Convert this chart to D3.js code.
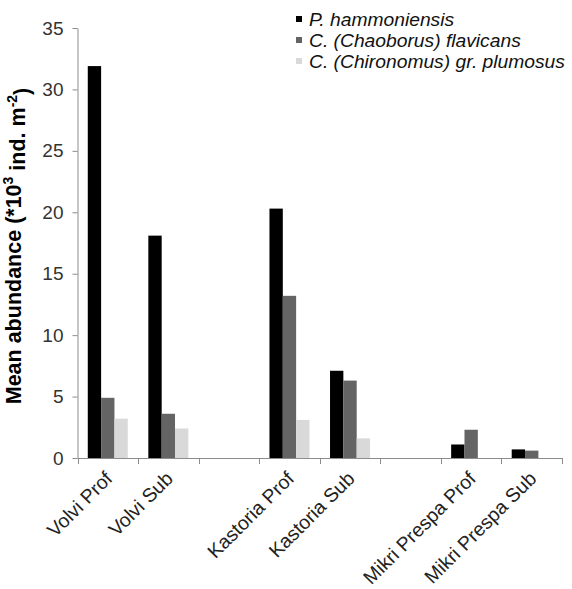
<!DOCTYPE html>
<html>
<head>
<meta charset="utf-8">
<script src="https://cdn.jsdelivr.net/npm/d3@7"></script>
<style>
  html, body { margin: 0; padding: 0; background: #fff; }
  svg { display: block; }
  text { font-family: Arial, "Liberation Sans", sans-serif; }
</style>
</head>
<body>
<svg id="chart" width="572" height="589"></svg>
<script>
// Sites (blank entries leave a gap between lakes)
const categories = ["Volvi Prof", "Volvi Sub", "", "Kastoria Prof", "Kastoria Sub", " ", "Mikri Prespa Prof", "Mikri Prespa Sub"];
const seriesNames = ["P. hammoniensis", "C. (Chaoborus) flavicans", "C. (Chironomus) gr. plumosus"];
// Mean abundance (*10^3 ind. m^-2)
const hammoniensis = [31.9, 18.1, null, 20.3, 7.1, null, 1.1, 0.7];
const flavicans    = [4.9, 3.6, null, 13.2, 6.3, null, 2.3, 0.6];
const plumosus     = [3.2, 2.4, null, 3.1, 1.6, null, 0, 0];
const yTicks = [0, 5, 10, 15, 20, 25, 30, 35];
const seriesColors = ["#000000", "#646464", "#d9d9d9"];

const seriesValues = [hammoniensis, flavicans, plumosus];
const svg = d3.select("#chart");

const x0 = d3.scaleBand().domain(categories).range([77.5, 562]).padding(0);
const x1 = d3.scaleBand().domain(seriesNames).range([0, x0.bandwidth()]).paddingInner(0).paddingOuter(0.77);
const y = d3.scaleLinear().domain([0, 35]).range([458, 28]);

const axisColor = "#8c8c8c";

// y axis
const yAxis = svg.append("g")
  .attr("transform", `translate(${x0.range()[0]},0)`)
  .call(d3.axisLeft(y).tickValues(yTicks).tickSize(5).tickSizeOuter(0).tickPadding(9));
yAxis.select(".domain").attr("stroke", axisColor);
yAxis.selectAll(".tick line").attr("stroke", axisColor);
yAxis.selectAll(".tick text")
  .attr("font-size", 19)
  .attr("fill", "#333")
  .style("font-family", "Arial, 'Liberation Sans', sans-serif");

// bars
const groups = svg.append("g").selectAll("g")
  .data(categories.map((c, i) => ({ c, i })))
  .join("g")
  .attr("transform", d => `translate(${x0(d.c)},0)`);

groups.selectAll("rect")
  .data(d => seriesNames.map((s, k) => ({ s, k, v: seriesValues[k][d.i] })).filter(e => e.v != null && e.v > 0))
  .join("rect")
  .attr("x", e => x1(e.s))
  .attr("width", x1.bandwidth())
  .attr("y", e => y(e.v))
  .attr("height", e => y(0) - y(e.v))
  .attr("fill", e => seriesColors[e.k]);

// x axis line with boundary ticks
const xAxis = svg.append("g");
xAxis.append("line")
  .attr("x1", x0.range()[0]).attr("x2", x0.range()[1])
  .attr("y1", y(0) + 0.5).attr("y2", y(0) + 0.5)
  .attr("stroke", axisColor);
const bounds = categories.map(c => x0(c)).concat([x0.range()[1]]);
xAxis.selectAll("line.tick")
  .data(bounds)
  .join("line")
  .attr("class", "tick")
  .attr("x1", d => Math.round(d) + 0.5).attr("x2", d => Math.round(d) + 0.5)
  .attr("y1", y(0)).attr("y2", y(0) + 6)
  .attr("stroke", axisColor);

// rotated category labels
xAxis.selectAll("text")
  .data(categories.filter(c => c.trim() !== ""))
  .join("text")
  .attr("transform", c => `translate(${x0(c) + x0.bandwidth() / 2 + 1},475) rotate(-45)`)
  .attr("text-anchor", "end")
  .attr("dy", "0.35em")
  .attr("font-size", 19.5)
  .attr("fill", "#222")
  .text(c => c);

// y axis title
const title = svg.append("text")
  .attr("transform", "translate(21,246) rotate(-90)")
  .attr("text-anchor", "middle")
  .attr("font-size", 21.5)
  .attr("font-weight", "bold")
  .attr("fill", "#000");
title.append("tspan").text("Mean abundance (*10");
title.append("tspan").attr("font-size", 14).attr("dy", "-0.55em").text("3");
title.append("tspan").attr("dy", "0.55em").text(" ind. m");
title.append("tspan").attr("font-size", 14).attr("dy", "-0.55em").text("-2");
title.append("tspan").attr("dy", "0.55em").text(")");

// legend
const legend = svg.append("g").selectAll("g")
  .data(seriesNames)
  .join("g")
  .attr("transform", (d, i) => `translate(296,${26 + i * 21})`);
legend.append("rect")
  .attr("x", 0).attr("y", -10)
  .attr("width", 6).attr("height", 6)
  .attr("fill", (d, i) => seriesColors[i]);
legend.append("text")
  .attr("transform", "translate(13,0) scale(1.07,1)")
  .attr("font-size", 18)
  .attr("font-style", "italic")
  .attr("fill", "#111")
  .text(d => d);
</script>
</body>
</html>
